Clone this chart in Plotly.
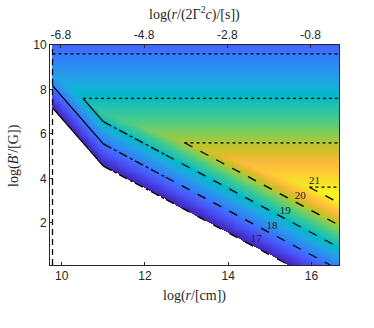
import numpy as np
import plotly.graph_objects as go

# 坐标轴范围
x_range = [9.72, 16.66]
y_range = [0.1, 10.0]
top_offset = 16.78          # log(2Γ²c)，上轴 = 下轴 - top_offset
top_ticks = [-6.8, -4.8, -2.8, -0.8]
bottom_ticks = [10, 12, 14, 16]
left_ticks = [2, 4, 6, 8, 10]

# 等值线层级与各分段参数
levels = [17, 18, 19, 20, 21]
flat_y = [11.6, 9.6, 7.6, 5.6, 3.6]             # 水平点线段所在高度
diag_sum = [15.55, 16.55, 17.55, 18.55, 19.55]  # 斜虚线段 x + y
kink_x = 11.0          # 陡峭实线段 -> 斜线段
steep = 2.15           # 陡峭段斜率
dashdot_end = 12.5     # 点划线 -> 虚线
left_edge = 9.78       # 左侧竖虚线

label_x = [14.67, 15.05, 15.37, 15.73, 16.07]
label_y = [1.24, 1.83, 2.51, 3.18, 3.89]

# parula 色表（旧版，取样）
parula = [
    [0.2422, 0.1504, 0.6603], [0.2578, 0.1818, 0.7511], [0.2706, 0.2147, 0.8364],
    [0.2783, 0.2559, 0.8991], [0.2813, 0.3006, 0.9414], [0.2795, 0.3447, 0.9717],
    [0.2699, 0.3892, 0.9906], [0.2440, 0.4358, 0.9988], [0.1963, 0.4847, 0.9892],
    [0.1786, 0.5289, 0.9682], [0.1687, 0.5703, 0.9359], [0.1460, 0.6091, 0.9079],
    [0.1248, 0.6459, 0.8883], [0.0952, 0.6798, 0.8598], [0.0297, 0.7082, 0.8163],
    [0.0067, 0.7312, 0.7660], [0.0964, 0.7500, 0.7120], [0.1717, 0.7670, 0.6554],
    [0.2161, 0.7843, 0.5923], [0.2906, 0.7973, 0.5188], [0.3909, 0.8029, 0.4354],
    [0.5044, 0.7993, 0.3480], [0.6174, 0.7876, 0.2612], [0.7242, 0.7698, 0.1910],
    [0.8203, 0.7498, 0.1535], [0.9035, 0.7330, 0.1774], [0.9728, 0.7298, 0.2394],
    [0.9970, 0.7659, 0.2199], [0.9892, 0.8136, 0.1885], [0.9676, 0.8639, 0.1643],
    [0.9597, 0.9135, 0.1423], [0.9691, 0.9606, 0.1064], [0.9769, 0.9839, 0.0805],
]
colorscale = [[i / (len(parula) - 1), "rgb(%d,%d,%d)" % tuple(int(round(c * 255)) for c in rgb)]
              for i, rgb in enumerate(parula)]

# 色场：三段平面取最小
xs = np.linspace(x_range[0], x_range[1], 320)
ys = np.linspace(y_range[0], y_range[1], 240)
X, Y = np.meshgrid(xs, ys)
step = 1.0 / (flat_y[0] - flat_y[1])
A = levels[0] + (flat_y[0] - Y) * step
B = levels[0] + (X + Y - diag_sum[0])
C = levels[0] + (Y + steep * (X - kink_x) - (diag_sum[0] - kink_x))
Z = np.minimum(np.minimum(A, B), C)
Z[Z < levels[0]] = np.nan
Z[X < left_edge] = np.nan

fig = go.Figure()
fig.add_trace(go.Heatmap(x=xs, y=ys, z=Z, colorscale=colorscale, zmin=levels[0],
                         zmax=np.nanmax(Z), showscale=False, hoverinfo="skip"))

line_kw = dict(color="black", width=1.3)


def add_line(xv, yv, dash):
    fig.add_trace(go.Scatter(x=xv, y=yv, mode="lines", line=dict(dash=dash, **line_kw),
                             showlegend=False, hoverinfo="skip"))


for lv, fy, s in zip(levels, flat_y, diag_sum):
    # 水平段与斜段的交点
    cx = s - fy
    if cx < kink_x:
        cx = kink_x - (fy - (s - kink_x)) / steep
    cx = max(cx, left_edge)
    if fy <= y_range[1]:
        add_line([cx, x_range[1]], [fy, fy], "dot")
    # 陡峭实线段
    if cx < kink_x:
        x0 = cx
        add_line([x0, kink_x], [s - kink_x - steep * (x0 - kink_x), s - kink_x], "solid")
    # 点划线段
    xa = max(cx, kink_x)
    if xa < dashdot_end:
        add_line([xa, dashdot_end], [s - xa, s - dashdot_end], "dashdot")
    # 虚线段
    xb = max(xa, dashdot_end)
    xe = min(x_range[1], s - y_range[0])
    add_line([xb, xe], [s - xb, s - xe], "dash")

add_line([left_edge, left_edge], y_range, "6px,4px")

fig.add_trace(go.Scatter(x=label_x, y=label_y, mode="text", text=[str(v) for v in levels],
                         textfont=dict(family="Liberation Serif", size=11, color="#222"),
                         showlegend=False, hoverinfo="skip"))

# 上轴占位
fig.add_trace(go.Scatter(x=[x_range[0] - top_offset, x_range[1] - top_offset], y=y_range,
                         xaxis="x2", mode="markers", marker=dict(opacity=0),
                         showlegend=False, hoverinfo="skip"))

tick_font = dict(family="Liberation Sans", size=12, color="#262626")
title_font = dict(family="Liberation Serif", size=14, color="#262626")
axis_common = dict(showgrid=False, zeroline=False, ticks="inside", ticklen=3,
                   linecolor="#262626", linewidth=0.8, tickcolor="#262626",
                   tickfont=tick_font, automargin=False)

fig.update_layout(
    width=374, height=328,
    margin=dict(l=50, r=35, t=45, b=63),
    plot_bgcolor="white", paper_bgcolor="white",
    xaxis=dict(range=x_range, tickvals=bottom_ticks, mirror=True, **axis_common),
    xaxis2=dict(range=[x_range[0] - top_offset, x_range[1] - top_offset], overlaying="x",
                side="top", tickvals=top_ticks, ticktext=[str(t) for t in top_ticks],
                **axis_common),
    yaxis=dict(range=y_range, tickvals=left_ticks, mirror=True, **axis_common),
)

# 轴标题
fig.add_annotation(text="log(<i>r</i>/[cm])", x=0.5, y=-0.141, xref="paper", yref="paper",
                   xanchor="center", yanchor="middle", showarrow=False, font=title_font)
fig.add_annotation(text="log(<i>r</i>/(2Γ<sup>2</sup><i>c</i>)/[s])", x=0.5, y=1.141,
                   xref="paper", yref="paper", xanchor="center", yanchor="middle",
                   showarrow=False, font=title_font)
fig.add_annotation(text="log(<i>B</i>′/[G])", x=-0.125, y=0.5, xref="paper", yref="paper",
                   xanchor="center", yanchor="middle", textangle=-90, showarrow=False,
                   font=title_font)

# 去掉页面 body 的默认边距，隐藏工具栏
fig.write_html("out.html", config={"displayModeBar": False},
               post_script="document.body.style.margin='0';")
